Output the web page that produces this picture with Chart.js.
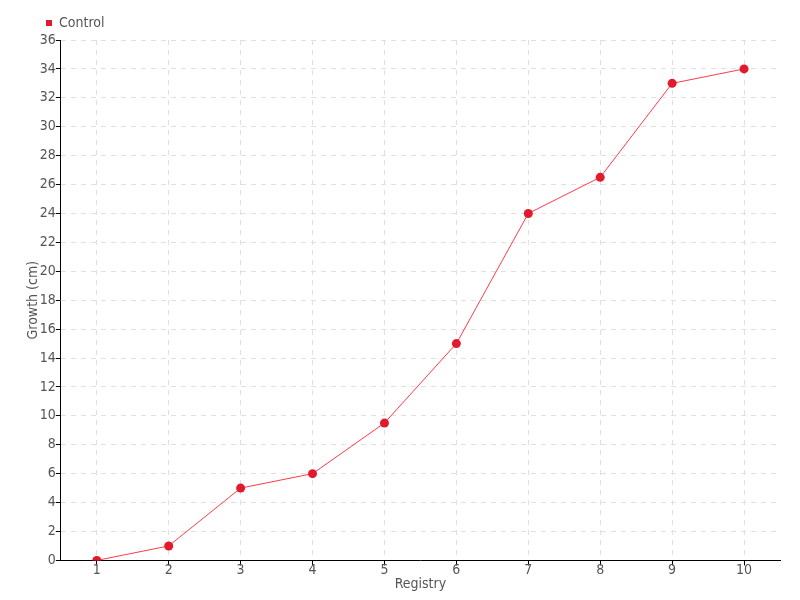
<!DOCTYPE html>
<html><head><meta charset="utf-8">
<script src="https://cdn.jsdelivr.net/npm/chart.js@4/dist/chart.umd.min.js"></script>
<style>html,body{margin:0;padding:0;background:#fff}#wrap{width:800px;height:600px}</style>
</head><body><div id="wrap"><canvas id="c"></canvas></div>
<script>
const categories = ['1','2','3','4','5','6','7','8','9','10'];
const controlValues = [0, 1, 5, 6, 9.5, 15, 24, 26.5, 33, 34];
const seriesName = 'Control';
const xTitle = 'Registry';
const yTitle = 'Growth (cm)';

const FONT = "'DejaVu Sans Condensed', 'Liberation Sans Narrow', 'Roboto Condensed', Roboto, sans-serif";
Chart.defaults.font.family = FONT;
Chart.defaults.color = '#555';

const legendShift = {
  id: 'legendShift',
  afterLayout(chart) {
    if (chart.legend) { chart.legend.left += 11; chart.legend.right += 11; }
  }
};

new Chart(document.getElementById('c'), {
  type: 'line',
  data: {
    labels: categories,
    datasets: [{
      label: seriesName,
      data: controlValues,
      borderColor: '#ff3b4a',
      backgroundColor: '#e31a2b',
      borderWidth: 1,
      pointRadius: 4.5,
      pointHoverRadius: 4.5,
      pointBackgroundColor: '#e31a2b',
      pointBorderColor: '#e31a2b',
      pointBorderWidth: 0,
      tension: 0,
      fill: false
    }]
  },
  options: {
    responsive: true,
    maintainAspectRatio: false,
    animation: false,
    layout: { padding: { left: 25, right: 20, top: 6, bottom: 7 } },
    plugins: {
      legend: {
        position: 'top',
        align: 'start',
        labels: {
          usePointStyle: true,
          pointStyle: 'rect',
          boxWidth: 6,
          boxHeight: 6,
          padding: 10,
          color: '#555',
          font: { size: 14 }
        }
      },
      tooltip: { enabled: false }
    },
    scales: {
      x: {
        offset: true,
        grid: {
          offset: false,
          color: '#e0e0e0',
          tickColor: '#000',
          tickLength: 5,
          tickBorderDash: []
        },
        border: { color: '#000', width: 1, dash: [5, 5] },
        ticks: { color: '#555', font: { size: 14 }, padding: -3 },
        title: { display: true, text: xTitle, color: '#555', font: { size: 14 }, padding: { top: 0, bottom: 0 } }
      },
      y: {
        min: 0,
        max: 36,
        ticks: { stepSize: 2, color: '#555', font: { size: 14 }, padding: 0 },
        grid: {
          color: '#e0e0e0',
          tickColor: '#000',
          tickLength: 5,
          tickBorderDash: []
        },
        border: { color: '#000', width: 1, dash: [5, 5] },
        title: { display: true, text: yTitle, color: '#555', font: { size: 14 }, padding: { top: 0, bottom: -2 } }
      }
    }
  },
  plugins: [legendShift]
});
</script>
</body></html>
